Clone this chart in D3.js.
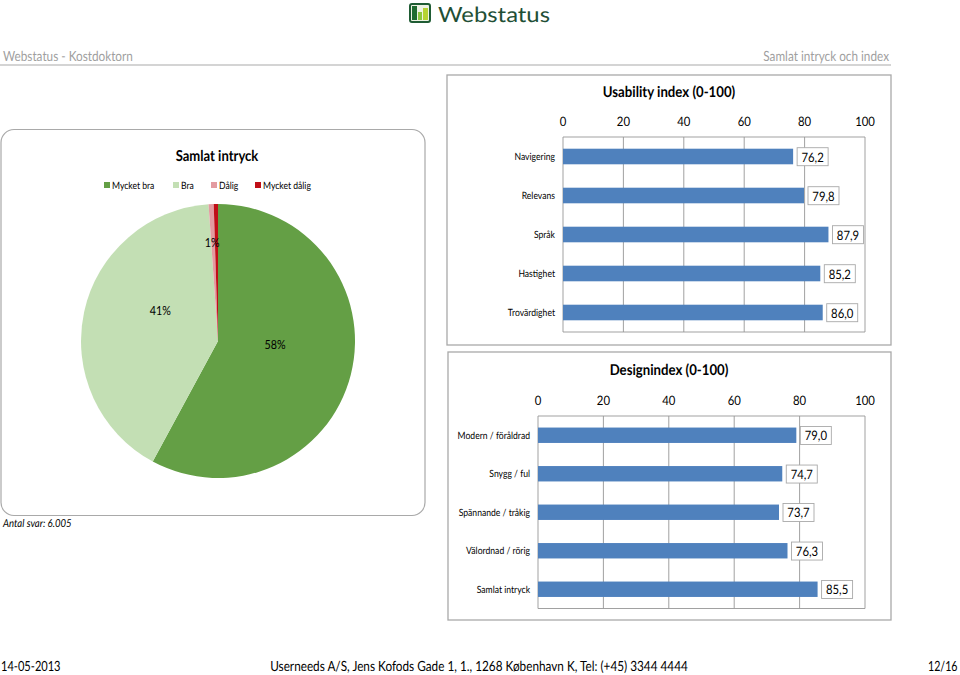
<!DOCTYPE html>
<html>
<head>
<meta charset="utf-8">
<script src="https://cdn.jsdelivr.net/npm/d3@7"></script>
<style>
  html, body { margin: 0; padding: 0; background: #fff; }
  text { font-family: Lato, "Open Sans", sans-serif; fill: #000; text-rendering: geometricPrecision; }
</style>
</head>
<body>
<svg id="page" width="960" height="675"></svg>
<script>
// pie values
var pieLabels = ['Mycket bra', 'Bra', 'Dålig', 'Mycket dålig'];
var pieValues = [57.9, 41.0, 0.6, 0.5];
var pieColors = ['#649f45', '#c3dfb4', '#e39ba1', '#c00f17'];
var pieTexts = ['58%', '41%', '1%', ''];

var usabilityCats = ['Navigering', 'Relevans', 'Språk', 'Hastighet', 'Trovärdighet'];
var usabilityVals = [76.2, 79.8, 87.9, 85.2, 86.0];

var designCats = ['Modern / föråldrad', 'Snygg / ful', 'Spännande / tråkig', 'Välordnad / rörig', 'Samlat intryck'];
var designVals = [79.0, 74.7, 73.7, 76.3, 85.5];

var axisTicks = [0, 20, 40, 60, 80, 100];

var svg = d3.select('#page');

// no Calibri here, so Lato gets squeezed to the narrower widths
var squeeze = 0.86;

function addText(x, y, str, size, opts) {
    opts = opts || {};
    var t = svg.append('text')
        .attr('x', x).attr('y', y)
        .attr('font-size', size)
        .attr('text-anchor', opts.anchor || 'start')
        .attr('font-weight', opts.weight || 'normal')
        .attr('font-style', opts.style || 'normal')
        .style('fill', opts.fill || '#000')
        .text(str);
    t.attr('textLength', t.node().getComputedTextLength() * (opts.squeeze || squeeze))
        .attr('lengthAdjust', 'spacingAndGlyphs');
    return t;
}

// header
var logo = svg.append('g');
logo.append('rect').attr('x', 410).attr('y', 4).attr('width', 20).attr('height', 18).attr('rx', 2)
    .attr('fill', '#eef3e4').attr('stroke', '#1f5c34').attr('stroke-width', 2);
logo.append('rect').attr('x', 412).attr('y', 6).attr('width', 5).attr('height', 14).attr('fill', '#1f6b30');
logo.append('rect').attr('x', 418).attr('y', 12).attr('width', 4).attr('height', 8).attr('fill', '#8cc63f');
logo.append('rect').attr('x', 423).attr('y', 8).attr('width', 5).attr('height', 12).attr('fill', '#b5d334');
svg.append('text').attr('x', 438).attr('y', 22).attr('font-size', 21)
    .attr('textLength', 112).attr('lengthAdjust', 'spacingAndGlyphs')
    .style('fill', '#1f4f36').text('Webstatus');

addText(3, 61, 'Webstatus - Kostdoktorn', 14, {fill: '#9f9f9f', squeeze: 0.84});
addText(889, 61, 'Samlat intryck och index', 14, {anchor: 'end', fill: '#9f9f9f', squeeze: 0.84});
svg.append('line').attr('x1', 0).attr('x2', 891).attr('y1', 65).attr('y2', 65)
    .attr('stroke', '#aaa').attr('stroke-width', 1.2);

// pie panel
svg.append('rect').attr('x', 1).attr('y', 129.5).attr('width', 424).attr('height', 386).attr('rx', 13)
    .attr('fill', '#fff').attr('stroke', '#a9a9a9').attr('stroke-width', 1.2);
addText(217, 161, 'Samlat intryck', 15, {anchor: 'middle', weight: 'bold', squeeze: 0.87});

// legend
var legendX = [104, 173, 211, 255];
pieLabels.forEach(function(name, i) {
    svg.append('rect').attr('x', legendX[i]).attr('y', 182).attr('width', 6).attr('height', 6).attr('fill', pieColors[i]);
    addText(legendX[i] + 8, 189, name, 10);
});

var pieCx = 218, pieCy = 341, pieR = 137;
var pie = d3.pie().sort(null).value(function(d) { return d; });
var arc = d3.arc().innerRadius(0).outerRadius(pieR);
var labelArc = d3.arc().innerRadius(pieR * 0.7).outerRadius(pieR * 0.7);
var labelShift = [[-36, -20], [36, -10], [-1, -2], [0, 0]];
var slices = pie(pieValues);
var pieG = svg.append('g').attr('transform', 'translate(' + pieCx + ',' + pieCy + ')');
pieG.selectAll('path').data(slices).enter().append('path')
    .attr('d', arc)
    .attr('fill', function(d, i) { return pieColors[i]; });
slices.forEach(function(d, i) {
    if (!pieTexts[i]) return;
    var c = labelArc.centroid(d);
    addText(pieCx + c[0] + labelShift[i][0], pieCy + c[1] + labelShift[i][1] + 4, pieTexts[i], 12.5, {anchor: 'middle'});
});
addText(3, 527, 'Antal svar: 6.005', 11, {style: 'italic', squeeze: 0.87});

// bar charts
function barChart(cfg) {
    svg.append('rect').attr('x', cfg.px).attr('y', cfg.py).attr('width', cfg.pw).attr('height', cfg.ph)
        .attr('fill', '#fff').attr('stroke', '#a9a9a9').attr('stroke-width', 1.3);
    addText(cfg.titleX, cfg.titleY, cfg.title, 15, {anchor: 'middle', weight: 'bold', squeeze: 0.88});

    var x = d3.scaleLinear().domain([0, 100]).range([cfg.x0, cfg.x1]);
    var y = d3.scaleBand().domain(cfg.cats).range([cfg.top, cfg.bottom]).paddingInner(0.6).paddingOuter(0.3);
    var g = svg.append('g');

    // grid
    g.append('g').selectAll('line').data(axisTicks).enter().append('line')
        .attr('x1', function(d) { return x(d); }).attr('x2', function(d) { return x(d); })
        .attr('y1', cfg.top).attr('y2', cfg.bottom)
        .attr('stroke', '#969696').attr('stroke-width', 0.9);
    g.append('line').attr('x1', cfg.x0).attr('x2', cfg.x1).attr('y1', cfg.top).attr('y2', cfg.top)
        .attr('stroke', '#969696').attr('stroke-width', 0.9);
    g.append('line').attr('x1', cfg.x0).attr('x2', cfg.x1).attr('y1', cfg.bottom).attr('y2', cfg.bottom)
        .attr('stroke', '#969696').attr('stroke-width', 0.9);

    axisTicks.forEach(function(t) {
        addText(x(t), cfg.top - 11, t, 13, {anchor: 'middle', squeeze: 0.87});
    });

    cfg.cats.forEach(function(c, i) {
        var v = cfg.vals[i], bh = y.bandwidth(), by = y(c);
        g.append('rect').attr('x', x(0)).attr('y', by).attr('width', x(v) - x(0)).attr('height', bh)
            .attr('fill', '#4f81bd');
        addText(cfg.x0 - 8, by + bh / 2 + 3.5, c, 10, {anchor: 'end'});
        var lab = d3.format('.1f')(v).replace('.', ',');
        g.append('rect').attr('x', x(v) + 4).attr('y', by - 1).attr('width', 31).attr('height', 18)
            .attr('fill', '#fff').attr('stroke', '#a9a9a9').attr('stroke-width', 0.9);
        addText(x(v) + 19.5, by + bh / 2 + 5, lab, 13, {anchor: 'middle', squeeze: 0.87});
    });
}

barChart({
    title: 'Usability index (0-100)', titleX: 669, titleY: 97,
    px: 447, py: 75, pw: 444, ph: 270,
    x0: 563, x1: 865, top: 137, bottom: 332,
    cats: usabilityCats, vals: usabilityVals
});
barChart({
    title: 'Designindex (0-100)', titleX: 669, titleY: 375,
    px: 448, py: 352, pw: 443, ph: 268,
    x0: 538, x1: 865, top: 416, bottom: 608.5,
    cats: designCats, vals: designVals
});

// footer
addText(1, 671, '14-05-2013', 14, {squeeze: 0.79});
addText(479, 671, 'Userneeds A/S, Jens Kofods Gade 1, 1., 1268 København K, Tel: (+45) 3344 4444', 14, {anchor: 'middle', squeeze: 0.84});
// page number sits close to the edge, scale it instead of textLength
svg.append('text').attr('transform', 'translate(928,671) scale(0.76,1)')
    .attr('font-size', 14).text('12/16');
</script>
</body>
</html>
